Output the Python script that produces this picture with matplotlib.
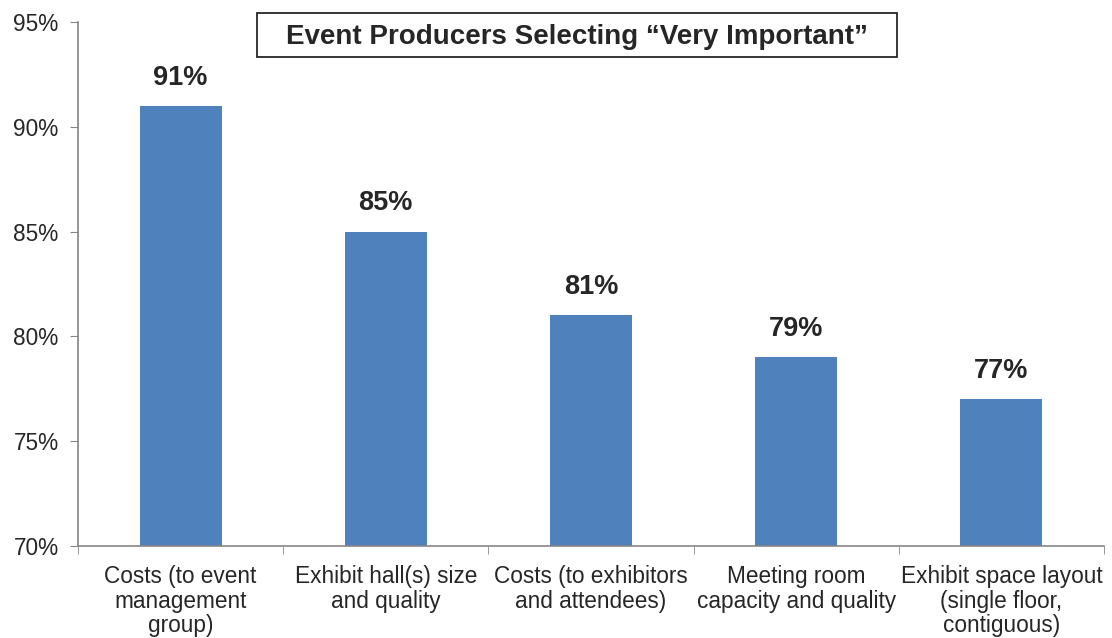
import matplotlib.pyplot as plt
from matplotlib.patches import Rectangle

categories = [
    "Costs (to event\nmanagement\ngroup)",
    "Exhibit hall(s) size\nand quality",
    "Costs (to exhibitors\nand attendees)",
    "Meeting room\ncapacity and quality",
    "Exhibit space layout\n(single floor,\ncontiguous)",
]
values = [91, 85, 81, 79, 77]
y_ticks = [70, 75, 80, 85, 90, 95]
title = "Event Producers Selecting \u201cVery Important\u201d"

plt.rcParams['font.family'] = ['Liberation Sans', 'DejaVu Sans']

fig = plt.figure(figsize=(11.12, 6.38), dpi=100)
ax = fig.add_axes([0.0701, 0.1442, 0.9227, 0.8213])

x = list(range(len(categories)))
ax.bar(x, values, width=0.4, color="#4F81BD", bottom=0, zorder=2)

for xi, v in zip(x, values):
    ax.annotate("{}%".format(v), (xi, v), xytext=(0, 11), textcoords="offset points",
                ha="center", va="bottom", fontsize=19.5, fontweight="bold", color="#262626")

ax.set_ylim(70, 95)
ax.set_xlim(-0.5, len(categories) - 0.5)
ax.set_yticks(y_ticks)
ax.set_yticklabels(["{}%".format(t) for t in y_ticks])
ax.set_xticks(x)
ax.set_xticklabels(categories)
ax.tick_params(axis="x", length=0, pad=14, labelsize=16.3, labelcolor="#262626")
ax.tick_params(axis="y", length=6, color="#868686", labelsize=16.3, labelcolor="#262626", pad=8)
ax.set_xticks([i - 0.5 for i in range(len(categories) + 1)], minor=True)
ax.tick_params(axis="x", which="minor", length=6, color="#868686")

for side in ["top", "right"]:
    ax.spines[side].set_visible(False)
for side in ["left", "bottom"]:
    ax.spines[side].set_color("#868686")
    ax.spines[side].set_linewidth(1.2)

for lbl in ax.get_xticklabels():
    lbl.set_linespacing(1.08)

# boxed title above the plot
fig.patches.append(Rectangle((0.2311, 0.9107), 0.5755, 0.069, transform=fig.transFigure,
                             facecolor="white", edgecolor="#262626", linewidth=1.3, zorder=5))
fig.text(0.519, 0.942, title, ha="center", va="center", fontsize=20, fontweight="bold",
         color="#262626", zorder=6)

plt.savefig("out.png", dpi=100)
